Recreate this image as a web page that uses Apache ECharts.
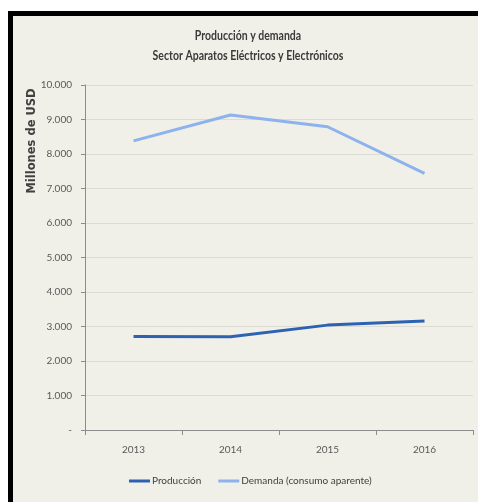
<!DOCTYPE html>
<html><head><meta charset="utf-8">
<script src="https://cdn.jsdelivr.net/npm/echarts@6/dist/echarts.min.js"></script>
<style>
html,body{margin:0;padding:0;background:#fff;width:478px;height:502px;overflow:hidden;}
#frame{position:absolute;left:8px;top:11px;width:465px;height:486px;border-top:5px solid #000;border-left:5px solid #000;background:#f1f0e8;}
#chart{position:absolute;left:0;top:0;width:478px;height:502px;}
</style></head>
<body>
<div id="frame"></div>
<div id="chart"></div>
<script>
const categories = ['2013', '2014', '2015', '2016'];
const produccion = [2710, 2700, 3040, 3160];
const demanda = [8380, 9130, 8790, 7440];
const yTicks = [0, 1000, 2000, 3000, 4000, 5000, 6000, 7000, 8000, 9000, 10000];
const titleLines = ['Producción y demanda', 'Sector Aparatos Eléctricos y Electrónicos'];
const yName = 'Millones de USD';
const seriesNames = ['Producción', 'Demanda (consumo aparente)'];

const FONT = 'Lato, "Liberation Sans", sans-serif';
const chart = echarts.init(document.getElementById('chart'), null, {renderer: 'canvas'});
function fmt(v) {
  if (v === 0) return '-';
  return String(v).replace(/\B(?=(\d{3})+(?!\d))/g, '.');
}
const titleStyle = {align: 'center', verticalAlign: 'middle', fontFamily: FONT, fontSize: 12.5, fontWeight: 'bold', fill: '#3a3a3a'};
chart.setOption({
  backgroundColor: 'transparent',
  animation: false,
  graphic: [
    {type: 'text', x: 248, y: 36, scaleX: 0.84, style: Object.assign({text: titleLines[0]}, titleStyle)},
    {type: 'text', x: 248, y: 56, scaleX: 0.84, style: Object.assign({text: titleLines[1]}, titleStyle)},
    {type: 'text', x: 32, y: 141, rotation: Math.PI / 2,
     style: {text: yName, align: 'center', verticalAlign: 'middle', fontFamily: '"DejaVu Sans", sans-serif', fontSize: 11.5, fontWeight: 'bold', fill: '#404040'}}
  ],
  legend: {
    left: 129, top: 476, padding: 0, itemWidth: 21, itemHeight: 3, itemGap: 17,
    textStyle: {fontFamily: FONT, fontSize: 10, color: '#404040', padding: [0, 0, 0, -3]},
    data: seriesNames.map(n => ({name: n, icon: 'rect'}))
  },
  grid: {left: 85, top: 85, right: 5, bottom: 72, containLabel: false},
  xAxis: {
    type: 'category', data: categories, boundaryGap: true,
    axisLine: {lineStyle: {color: '#8c8c8c', width: 1}},
    axisTick: {show: true, length: 5, lineStyle: {color: '#8c8c8c'}},
    axisLabel: {margin: 15, fontFamily: FONT, fontSize: 10, color: '#595959'}
  },
  yAxis: {
    type: 'value', min: yTicks[0], max: yTicks[yTicks.length - 1], interval: 1000,
    axisLine: {show: true, lineStyle: {color: '#8c8c8c', width: 1}},
    axisTick: {show: true, length: 4, lineStyle: {color: '#8c8c8c'}},
    axisLabel: {margin: 13, fontFamily: FONT, fontSize: 10, color: '#595959', formatter: fmt},
    splitLine: {show: true, lineStyle: {color: '#dcdbd4', width: 1}}
  },
  series: [
    {name: seriesNames[0], type: 'line', data: produccion, symbol: 'none',
     lineStyle: {color: '#2d62b3', width: 3}, itemStyle: {color: '#2d62b3'}},
    {name: seriesNames[1], type: 'line', data: demanda, symbol: 'none',
     lineStyle: {color: '#8db2ee', width: 3}, itemStyle: {color: '#8db2ee'}}
  ]
});
</script>
</body></html>
